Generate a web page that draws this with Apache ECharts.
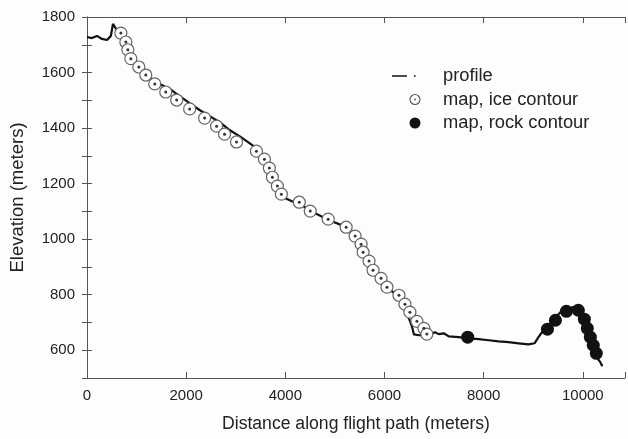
<!DOCTYPE html>
<html>
<head>
<meta charset="utf-8">
<script src="https://cdn.jsdelivr.net/npm/echarts@6/dist/echarts.min.js"></script>
<style>html,body{margin:0;padding:0;background:#fdfdfd;}#c{width:628px;height:439px;}</style>
</head>
<body>
<div id="c"></div>
<script>
// Profile line (distance m, elevation m)
const profileX = [0,100,201,302,402,482,523,563,603,663,744,824,905,1065,1266,1467,1668,1869,2070,2271,2472,2673,2874,3075,3276,3417,3518,3618,3698,3779,3859,3960,4121,4281,4482,4683,4884,5186,5327,5447,5528,5608,5688,5809,5930,6050,6211,6332,6432,6492,6553,6593,6693,6894,7015,7095,7196,7296,7497,7698,7899,8100,8301,8502,8703,8904,9025,9105,9206,9306,9427,9548,9668,9789,9909,9990,10050,10110,10171,10231,10291,10352,10392];
const profileY = [1728,1724,1732,1721,1717,1732,1775,1771,1753,1732,1699,1663,1638,1609,1580,1559,1541,1515,1490,1465,1443,1422,1393,1371,1346,1328,1303,1274,1241,1209,1176,1151,1137,1130,1104,1086,1068,1047,1025,996,967,938,910,877,849,823,805,780,744,715,686,657,654,654,665,658,661,650,647,643,640,636,632,629,625,621,625,647,672,690,715,737,748,755,751,737,708,672,636,600,571,557,542];
// Map, ice contour points
const iceX = [683,784,824,884,1045,1186,1367,1588,1809,2070,2372,2613,2774,3015,3417,3578,3678,3739,3839,3920,4281,4502,4864,5226,5407,5528,5568,5688,5769,5930,6050,6291,6412,6512,6653,6794,6854];
const iceY = [1742,1710,1682,1650,1620,1591,1559,1530,1501,1469,1436,1407,1378,1350,1317,1288,1256,1223,1191,1162,1133,1101,1072,1043,1011,982,953,921,888,859,827,798,766,737,704,679,658];
// Map, rock contour points
const rockX = [7678,9286,9447,9668,9909,10030,10090,10151,10211,10271];
const rockY = [647,676,708,740,744,712,679,647,618,589];
// Axis labels
const xTicks = [0,2000,4000,6000,8000,10000];
const yTicks = [600,800,1000,1200,1400,1600,1800];

const zip = (a,b)=>a.map((v,i)=>[v,b[i]]);
const FONT = 'Liberation Sans, Arial, sans-serif';
const chart = echarts.init(document.getElementById('c'), null, {renderer:'canvas'});
const frame = {show:true, lineStyle:{color:'#555', width:1}};
const ringIcon = 'path://M10,0A10,10,0,1,0,10.01,0ZM10,2A8,8,0,1,1,9.99,2ZM10,8.3A1.7,1.7,0,1,0,10.01,8.3Z';
chart.setOption({
  backgroundColor:'#fdfdfd',
  animation:false,
  grid:{left:87, right:2, top:17, bottom:61},
  xAxis:[{
    type:'value', min:0, max:10850, interval:2000,
    axisLine:frame, axisTick:{show:true, inside:true, length:6, lineStyle:{color:'#555'}},
    splitLine:{show:false},
    axisLabel:{margin:10, color:'#222', fontSize:15, fontFamily:FONT,
      formatter:v=>xTicks.includes(v)?String(v):''},
    name:'Distance along flight path (meters)', nameLocation:'middle', nameGap:37,
    nameTextStyle:{color:'#222', fontSize:17.6, fontFamily:FONT}
  },{
    type:'value', position:'top', min:0, max:10850, interval:2000,
    axisLine:frame, axisTick:{show:true, inside:true, length:6, lineStyle:{color:'#555'}},
    axisLabel:{show:false}, splitLine:{show:false}
  }],
  yAxis:[{
    type:'value', min:500, max:1800, interval:100,
    axisLine:frame, axisTick:{show:true, inside:true, length:5, lineStyle:{color:'#555'}},
    splitLine:{show:false},
    axisLabel:{margin:12, color:'#222', fontSize:15, fontFamily:FONT,
      formatter:v=>yTicks.includes(v)?String(v):''},
    name:'Elevation (meters)', nameLocation:'middle', nameGap:60, nameRotate:90,
    nameTextStyle:{color:'#222', fontSize:18.5, fontFamily:FONT}
  },{
    type:'value', position:'right', min:500, max:1800, interval:100,
    axisLine:frame, axisTick:{show:true, inside:true, length:5, lineStyle:{color:'#555'}},
    axisLabel:{show:false}, splitLine:{show:false}
  }],
  legend:{
    left:387, top:62, orient:'vertical', itemWidth:46, itemHeight:11, itemGap:5.5,
    textStyle:{color:'#222', fontSize:18.3, fontFamily:FONT},
    data:[
      {name:'profile', icon:'path://M0,0h15v1.6h-15zM22,0h1.6v1.6h-1.6zM45.9,0h0.1v0.1h-0.1z', itemStyle:{color:'#111'}},
      {name:'map, ice contour', icon:ringIcon, itemStyle:{color:'#555', borderWidth:0, opacity:1}},
      {name:'map, rock contour', icon:'circle', itemStyle:{color:'#111', opacity:1}}
    ]
  },
  series:[
    {name:'profile', type:'line', data:zip(profileX,profileY), showSymbol:false, symbol:'none',
      lineStyle:{color:'#111', width:2.2}, itemStyle:{color:'#111'}, z:2},
    {name:'map, ice contour', type:'scatter', data:zip(iceX,iceY), symbol:'circle', symbolSize:12,
      itemStyle:{color:'#ffffff', borderColor:'#666', borderWidth:1.2, opacity:1}, z:3},
    {name:'ice center', type:'scatter', data:zip(iceX,iceY), symbol:'circle', symbolSize:3,
      itemStyle:{color:'#333', opacity:1}, z:4, silent:true},
    {name:'map, rock contour', type:'scatter', data:zip(rockX,rockY), symbol:'circle', symbolSize:13,
      itemStyle:{color:'#111', opacity:1}, z:3}
  ]
});
</script>
</body>
</html>
